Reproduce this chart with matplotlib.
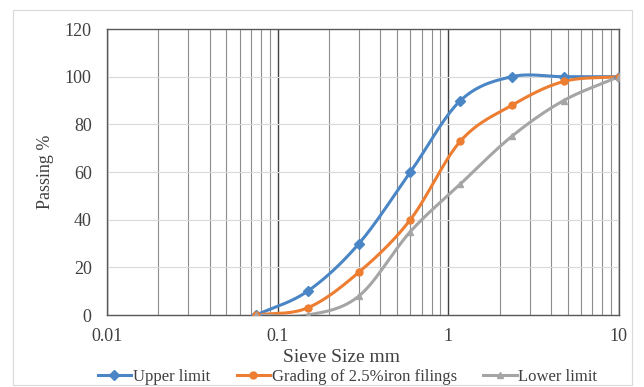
import numpy as np
import matplotlib
matplotlib.use("Agg")
import matplotlib.pyplot as plt
from matplotlib.patches import Rectangle

plt.rcParams['font.family'] = ['Liberation Serif', 'DejaVu Serif']

# sieve sizes (mm) and passing %
sieve = [0.075, 0.15, 0.3, 0.6, 1.18, 2.36, 4.75, 10]
upper = [0, 10, 30, 60, 90, 100, 100, 100]
grading = [0, 3, 18, 40, 73, 88, 98, 100]
lower = [0, 0, 8, 35, 55, 75, 90, 100]

series_names = ["Upper limit", "Grading of 2.5%iron filings", "Lower limit"]
colors = ["#4a86c5", "#ed7d31", "#a5a5a5"]
markers = ["D", "o", "^"]


def smooth(x, y, n=30):
    # bezier smoothing in log-x, like Excel's smoothed line
    lx = np.log10(x)
    y = np.asarray(y, float)
    px = np.concatenate([[2 * lx[0] - lx[1]], lx, [2 * lx[-1] - lx[-2]]])
    py = np.concatenate([[2 * y[0] - y[1]], y, [2 * y[-1] - y[-2]]])
    xs, ys = [], []
    for i in range(1, len(px) - 2):
        t = np.linspace(0, 1, n)
        p0, p1, p2, p3 = px[i - 1:i + 3]
        q0, q1, q2, q3 = py[i - 1:i + 3]
        c1x, c1y = p1 + (p2 - p0) / 6, q1 + (q2 - q0) / 6
        c2x, c2y = p2 - (p3 - p1) / 6, q2 - (q3 - q1) / 6
        bx = (1 - t)**3 * p1 + 3 * (1 - t)**2 * t * c1x + 3 * (1 - t) * t**2 * c2x + t**3 * p2
        by = (1 - t)**3 * q1 + 3 * (1 - t)**2 * t * c1y + 3 * (1 - t) * t**2 * c2y + t**3 * q2
        xs.extend(bx)
        ys.extend(by)
    return 10**np.array(xs), np.array(ys)


fig = plt.figure(figsize=(6.44, 3.87), dpi=100)
fig.patches.append(Rectangle((0.02, 0.005), 0.962, 0.97, transform=fig.transFigure,
                             fill=False, edgecolor="#d9d9d9", linewidth=0.8))
ax = fig.add_axes([0.166, 0.186, 0.795, 0.739])

for vals, name, c, m in zip([upper, grading, lower], series_names, colors, markers):
    sx, sy = smooth(np.array(sieve), vals)
    ax.plot(sx, sy, color=c, linewidth=2.2, zorder=3)
    ax.plot(sieve, vals, linestyle="none", marker=m, markersize=5, color=c, zorder=4)
    ax.plot([], [], color=c, linewidth=2.2, marker=m, markersize=5, label=name)

ax.set_xscale("log")
ax.set_xlim(0.01, 10)
ax.set_ylim(0, 120)
ax.set_yticks(range(0, 121, 20))
ax.set_xticks([0.01, 0.1, 1, 10])
ax.set_xticklabels(["0.01", "0.1", "1", "10"])
ax.grid(True, which="minor", axis="x", color="#8c8c8c", linewidth=0.8)
ax.grid(True, which="major", axis="x", color="#404040", linewidth=1.0)
ax.grid(True, which="major", axis="y", color="#d9d9d9", linewidth=0.8)
ax.tick_params(which="both", length=0, labelsize=13, colors="#404040")
ax.tick_params(axis="x", pad=9)
ax.tick_params(axis="y", pad=11)
for s in ax.spines.values():
    s.set_color("#595959")
    s.set_linewidth(1.0)

ax.set_xlabel("Sieve Size mm", fontsize=14, color="#404040", va="center")
ax.xaxis.set_label_coords(0.459, -0.148)
ax.set_ylabel("Passing %", fontsize=13, color="#404040", labelpad=8)

ax.legend(loc="center", bbox_to_anchor=(0.47, -0.215), ncol=3, frameon=False,
          fontsize=12, handlelength=2.0, columnspacing=1.6, handletextpad=0.1,
          labelcolor="#404040")

fig.savefig("out.png", dpi=100)
